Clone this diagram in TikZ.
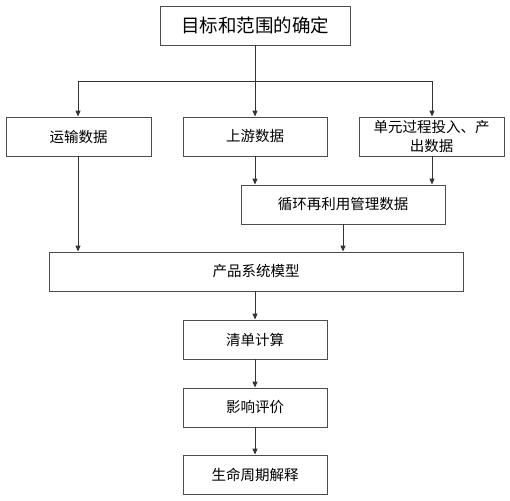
\documentclass[tikz,border=0pt]{standalone}
\usepackage{fontspec}
\newfontfamily\cjk{Noto Sans CJK SC}
\usetikzlibrary{arrows.meta}
\begin{document}
\begin{tikzpicture}[x=1pt,y=-1pt,
  box/.style={draw=black!70,line width=0.9pt,inner sep=0pt,font=\cjk\fontsize{14.5}{17}\selectfont,align=center},
  conn/.style={draw=black!80,line width=0.9pt,-{Triangle[length=6pt,width=5pt]}},
  plain/.style={draw=black!80,line width=0.9pt}]
\useasboundingbox (0,0) rectangle (510,500);
\node[box,minimum width=190pt,minimum height=39pt,font=\cjk\fontsize{18.5}{20}\selectfont] (goal) at (255,25.5) {目标和范围的确定};
\node[box,minimum width=145pt,minimum height=39pt] (trans) at (78.5,136.5) {运输数据};
\node[box,minimum width=144pt,minimum height=39pt] (up) at (255,136.5) {上游数据};
\node[box,minimum width=145pt,minimum height=39pt,font=\cjk\fontsize{14.5}{19}\selectfont] (unit) at (431.5,136.5) {单元过程投入、产\\出数据};
\node[box,minimum width=204pt,minimum height=39pt] (rec) at (343,204.5) {循环再利用管理数据};
\node[box,minimum width=414pt,minimum height=39pt] (prod) at (256,271.5) {产品系统模型};
\node[box,minimum width=144pt,minimum height=39pt] (inv) at (255,339.5) {清单计算};
\node[box,minimum width=144pt,minimum height=39pt] (imp) at (255,407.5) {影响评价};
\node[box,minimum width=144pt,minimum height=39pt] (interp) at (255,474.5) {生命周期解释};
\coordinate (split) at (255,81);
\coordinate (sl) at (78,81);
\coordinate (sr) at (432,81);
\draw[plain] (goal.south) -- (split);
\draw[plain] (sl) -- (sr);
\draw[conn] (split) -- (up.north);
\draw[conn] (sl) -- (sl |- trans.north);
\draw[conn] (sr) -- (sr |- unit.north);
\draw[conn] (up.south) -- (up.south |- rec.north);
\draw[conn] (sr |- unit.south) -- (sr |- rec.north);
\draw[conn] (sl |- trans.south) -- (sl |- prod.north);
\draw[conn] (rec.south) -- (rec.south |- prod.north);
\draw[conn] (prod.south -| inv.north) -- (inv.north);
\draw[conn] (inv.south) -- (imp.north);
\draw[conn] (imp.south) -- (interp.north);
\end{tikzpicture}
\end{document}
